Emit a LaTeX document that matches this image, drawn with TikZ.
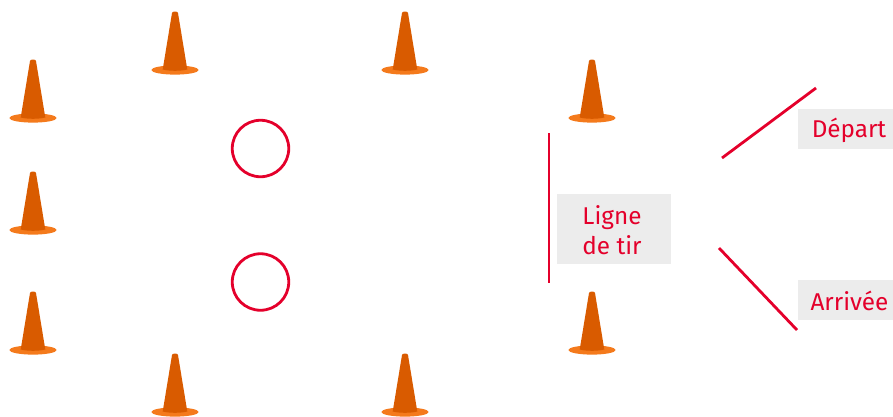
\documentclass[tikz,border=0pt]{standalone}
\usepackage{fontspec}
\setmainfont{Fira Sans}
\definecolor{rouge}{HTML}{E4002B}
\definecolor{fond}{HTML}{ECECEC}
\definecolor{conedark}{HTML}{D95B00}
\definecolor{conelight}{HTML}{F47A1C}
\tikzset{
  redline/.style={draw=rouge,line width=2.8pt},
  label box/.style={fill=fond,inner sep=0pt,anchor=center},
  label text/.style={text=rouge,font=\fontsize{24.3}{30}\selectfont,align=center,inner sep=0pt,anchor=center},
  ring/.style={draw=rouge,line width=2.8pt,circle,minimum size=56.5pt,inner sep=0pt},
  cone/.pic={
    \fill[conelight] (0,0) ellipse [x radius=23.7,y radius=4.6];
    \fill[conedark] (-12.3,-0.5) -- (-3,-57) .. controls (-2.6,-59) and (2.6,-59) .. (3,-57) -- (12.3,-0.5) .. controls (6,1.2) and (-6,1.2) .. (-12.3,-0.5) -- cycle;
  }
}
\begin{document}
\begin{tikzpicture}[x=1pt,y=-1pt]
\useasboundingbox (0,0) rectangle (893,416);
\foreach \cx/\cy in {33/118,33/230,33/350,175/70,405/70,592/118,592/350,175/412,405/412}
  \pic at (\cx,\cy) {cone};
\node[ring] (c1) at (260.5,148.5) {};
\node[ring] (c2) at (260.5,282) {};
\coordinate (t1) at (549,133);
\coordinate (t2) at (549,283);
\draw[redline] (t1) -- (t2);
\node[label box,minimum width=114pt,minimum height=70pt] (tirbox) at (614,229) {};
\node[label text] (tir) at (612,230) {Ligne\\de tir};
\coordinate (d1) at (722,158);
\coordinate (d2) at (816,88);
\draw[redline] (d1) -- (d2);
\node[label box,minimum width=95pt,minimum height=40pt] (depbox) at (845.5,129) {};
\node[label text] (dep) at (849,130) {Départ};
\coordinate (a1) at (719,248);
\coordinate (a2) at (797,330);
\draw[redline] (a1) -- (a2);
\node[label box,minimum width=95pt,minimum height=40pt] (arrbox) at (845.5,300) {};
\node[label text] (arr) at (849.5,301) {Arrivée};
\end{tikzpicture}
\end{document}
